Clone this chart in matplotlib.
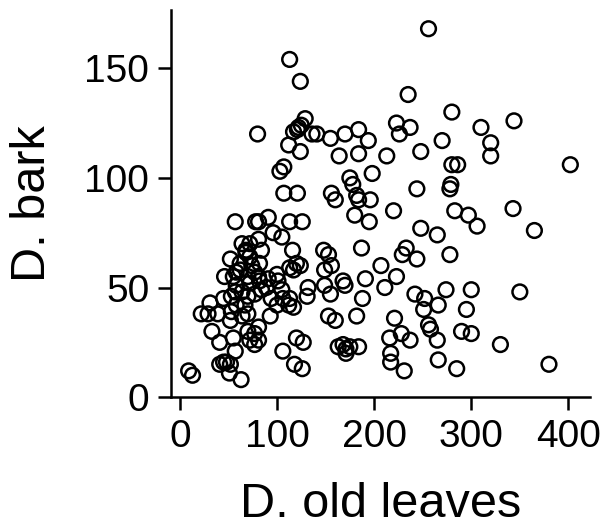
import matplotlib
matplotlib.use("Agg")
import matplotlib.pyplot as plt
import numpy as np

# D. old leaves (x) vs D. bark (y)
old_leaves = [
    113, 124, 80, 129, 125, 122, 117, 121, 136, 141, 155, 170, 184, 194,
    112, 124, 164, 184, 213, 107, 103, 198, 175, 178, 107, 121, 156, 160,
    182, 184, 196,
    256, 235, 280, 344, 223, 237, 226, 310, 270, 320, 320, 248, 280, 286,
    402, 244, 279, 278,
    220, 283, 297, 306, 343, 365, 248, 265, 233, 229, 244, 278, 207, 223,
    211, 242, 252, 274, 300, 350, 266, 251, 295, 221, 256, 258, 228, 216,
    237, 290, 300, 265, 330, 217, 217, 231, 266, 285, 380,
    57, 78, 81, 91, 113, 126, 180, 195, 96, 105, 81, 72, 84, 68, 116, 148,
    153, 187, 52, 62, 72, 82, 113, 120, 124, 117, 156, 149, 168, 170, 191,
    132, 131, 149, 155, 188, 46, 55, 58, 70, 81, 82, 72, 100, 101, 89, 105,
    45, 53, 57, 77, 67, 94, 106, 113, 112, 117, 100, 31, 22, 29, 39, 53,
    52, 64, 93, 153, 160, 182, 33, 41, 55, 57, 70, 81, 77, 72, 81, 77, 106,
    120, 127, 163, 168, 171, 175, 171, 184, 45, 41, 48, 52, 51, 63, 9, 13,
    118, 126, 64, 68, 62, 74, 77, 58, 64, 84, 91, 70, 58, 70,
]
bark = [
    154, 144, 120, 127, 124, 123, 121, 122, 120, 120, 118, 120, 122, 117,
    115, 112, 110, 111, 110, 105, 103, 102, 100, 97, 93, 93, 93, 90,
    92, 90, 90,
    168, 138, 130, 126, 125, 123, 120, 123, 117, 116, 110, 112, 106, 106,
    106, 95, 97, 95,
    85, 85, 83, 78, 86, 76, 77, 74, 68, 65, 63, 65, 60, 55,
    50, 47, 45, 49, 49, 48, 42, 40, 40, 36, 33, 31, 29, 27,
    26, 30, 29, 26, 24, 20, 16, 12, 17, 13, 15,
    80, 80, 80, 82, 80, 80, 83, 80, 75, 73, 72, 70, 67, 67, 67, 67,
    65, 68, 63, 61, 64, 61, 59, 61, 60, 58, 60, 58, 53, 51, 54,
    50, 46, 51, 47, 45, 55, 55, 57, 55, 55, 53, 52, 56, 53, 50, 49,
    45, 46, 48, 47, 42, 45, 45, 45, 42, 41, 42, 43, 38, 38, 38, 39,
    35, 37, 37, 37, 35, 37, 30, 25, 27, 21, 30, 32, 29, 26, 26, 24, 21,
    27, 25, 23, 24, 22, 23, 20, 23, 16, 15, 16, 15, 11, 8, 12, 10,
    15, 13, 70, 66, 58, 60, 57, 51, 48, 49, 54, 46, 42, 38,
]

plt.rcParams["font.family"] = ["Liberation Sans", "DejaVu Sans"]

fig = plt.figure(figsize=(6.08, 5.31), dpi=100)
ax = fig.add_axes([0.281, 0.252, 0.689, 0.729])

ax.scatter(old_leaves, bark, s=112, facecolors="none", edgecolors="black",
           linewidths=1.8, clip_on=False)

ax.set_xlim(-9.3, 422)
ax.set_ylim(0, 176.5)
ax.set_xticks([0, 100, 200, 300, 400])
ax.set_yticks([0, 50, 100, 150])

for side in ["top", "right"]:
    ax.spines[side].set_visible(False)
for side in ["left", "bottom"]:
    ax.spines[side].set_linewidth(1.8)

ax.tick_params(direction="out", length=9.5, width=1.8, labelsize=28, pad=6)
ax.set_xlabel("D. old leaves", fontsize=35, labelpad=20)
ax.set_ylabel("D. bark", fontsize=35, labelpad=21)

fig.savefig("out.png", dpi=100)
